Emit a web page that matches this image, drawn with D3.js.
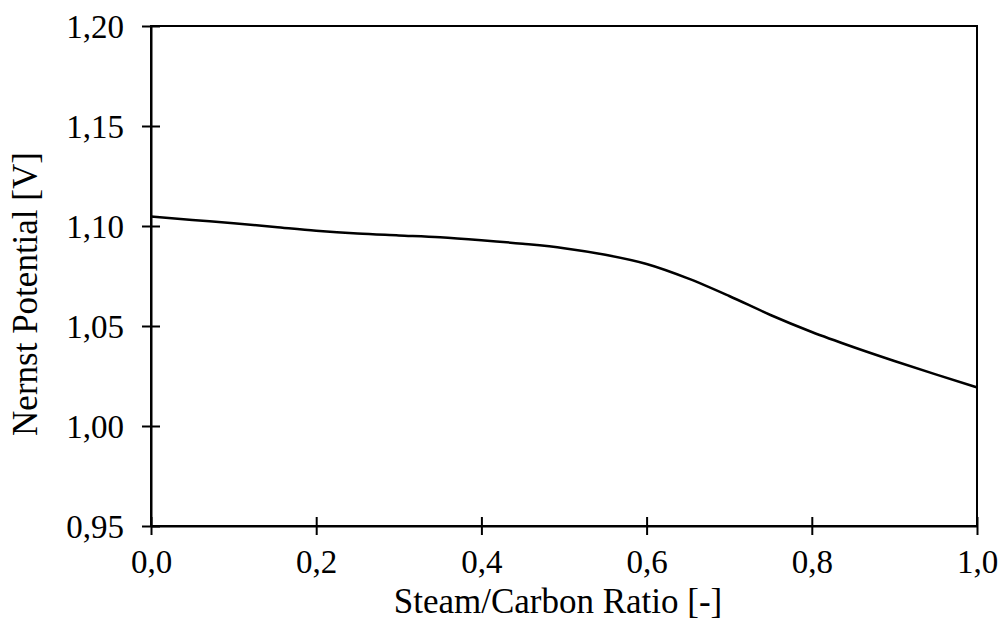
<!DOCTYPE html>
<html>
<head>
<meta charset="utf-8">
<script src="https://cdn.jsdelivr.net/npm/d3@7"></script>
<style>
  body { margin: 0; background: #fff; }
  svg text { font-family: "Liberation Serif", "Times New Roman", serif; fill: #000; }
</style>
</head>
<body>
<div id="chart"></div>
<script>
// Steam/Carbon ratio vs Nernst potential
const ratioValues = [0, 0.05, 0.1, 0.15, 0.2, 0.25, 0.3, 0.35, 0.4, 0.45, 0.5,
                     0.55, 0.6, 0.65, 0.7, 0.75, 0.8, 0.85, 0.9, 0.95, 1.0];
const nernstValues = [1.1047, 1.1030, 1.1014, 1.0995, 1.0976, 1.0962, 1.0953, 1.0944, 1.0929, 1.0911, 1.0889,
                      1.0856, 1.0810, 1.0738, 1.0650, 1.0555, 1.0470, 1.0395, 1.0325, 1.0258, 1.0193];
const xTicks = [0, 0.2, 0.4, 0.6, 0.8, 1.0];
const yTicks = [0.95, 1.00, 1.05, 1.10, 1.15, 1.20];

const width = 998, height = 621;
const margin = { top: 26, right: 21, bottom: 95, left: 151 };

const svg = d3.select("#chart")
    .append("svg")
    .attr("width", width)
    .attr("height", height);

const x = d3.scaleLinear().domain([0, 1]).range([margin.left, width - margin.right]);
const y = d3.scaleLinear().domain([0.95, 1.20]).range([height - margin.bottom, margin.top]);

const commaFmt = (digits) => d => d.toFixed(digits).replace(".", ",");

// frame (top and right)
svg.append("rect")
    .attr("x", x(0))
    .attr("y", y(1.20))
    .attr("width", x(1) - x(0))
    .attr("height", y(0.95) - y(1.20))
    .attr("fill", "none")
    .attr("stroke", "#000")
    .attr("stroke-width", 2);

// x axis, ticks crossing the line
const xAxis = svg.append("g")
    .attr("transform", `translate(0, ${y(0.95)})`)
    .call(d3.axisBottom(x).tickValues(xTicks).tickSize(0).tickFormat(commaFmt(1)));
xAxis.select(".domain").attr("stroke", "#000").attr("stroke-width", 2);
xAxis.selectAll(".tick line").remove();
xAxis.selectAll(".tick").append("line")
    .attr("y1", -9).attr("y2", 9)
    .attr("stroke", "#000").attr("stroke-width", 2);
xAxis.selectAll(".tick text")
    .attr("y", 47)
    .attr("dy", null)
    .attr("font-size", "33px")
    .attr("font-family", "'Liberation Serif', serif");

// y axis
const yAxis = svg.append("g")
    .attr("transform", `translate(${x(0)}, 0)`)
    .call(d3.axisLeft(y).tickValues(yTicks).tickSize(0).tickFormat(commaFmt(2)));
yAxis.select(".domain").attr("stroke", "#000").attr("stroke-width", 2);
yAxis.selectAll(".tick line").remove();
yAxis.selectAll(".tick").append("line")
    .attr("x1", -9).attr("x2", 9)
    .attr("stroke", "#000").attr("stroke-width", 2);
yAxis.selectAll(".tick text")
    .attr("x", -27)
    .attr("dy", "0.34em")
    .attr("font-size", "33px")
    .attr("font-family", "'Liberation Serif', serif");

// curve
const line = d3.line()
    .x((d, i) => x(ratioValues[i]))
    .y(d => y(d))
    .curve(d3.curveMonotoneX);

svg.append("path")
    .datum(nernstValues)
    .attr("fill", "none")
    .attr("stroke", "#000")
    .attr("stroke-width", 2.5)
    .attr("d", line);

// axis titles
svg.append("text")
    .attr("x", 558)
    .attr("y", 613)
    .attr("text-anchor", "middle")
    .attr("font-size", "35px")
    .text("Steam/Carbon Ratio [-]");

svg.append("text")
    .attr("transform", `translate(37, 294) rotate(-90)`)
    .attr("text-anchor", "middle")
    .attr("font-size", "35px")
    .text("Nernst Potential [V]");
</script>
</body>
</html>
